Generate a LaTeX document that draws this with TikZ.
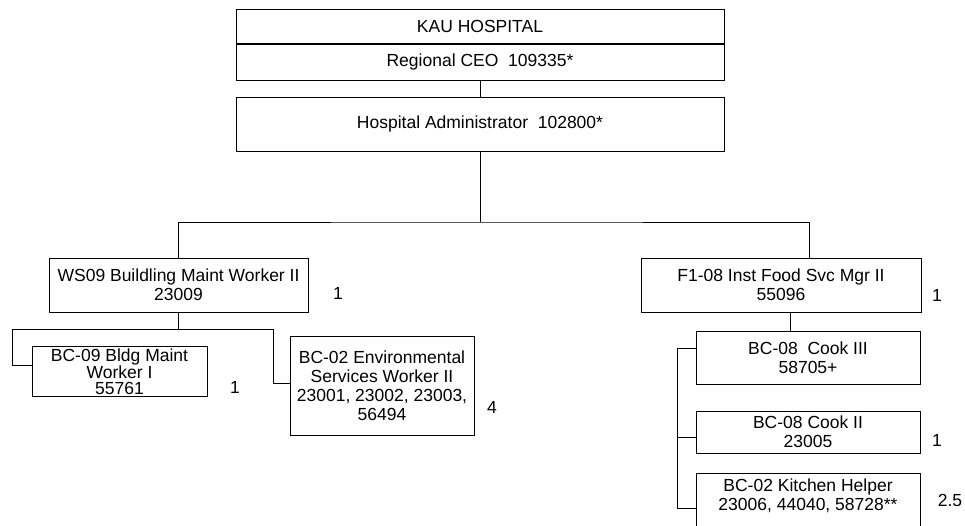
\documentclass[tikz,border=0pt]{standalone}
\usepackage{fontspec}
\setmainfont{Liberation Sans}
\usetikzlibrary{positioning}
\tikzset{
  every node/.style={
    font=\fontsize{17.5}{19}\selectfont
  },
  post/.style n args={2}{
    shape=rectangle,
    draw=black,
    line width=1pt,
    minimum width=#1,
    minimum height=#2,
    inner sep=0pt,
    align=center
  },
  tight/.style={
    font=\fontsize{17.5}{16}\selectfont
  },
  headcount/.style={
    inner sep=0pt
  },
  link/.style={
    draw=black,
    line width=1pt
  }
}

\begin{document}
\begin{tikzpicture}[x=1pt,y=-1pt]
\useasboundingbox (0,0) rectangle (965,525);
\clip (0,0) rectangle (965,525);

% top of the chart
\node [post={488pt}{34pt}] (hosp) at (480,26) {KAU HOSPITAL};
\node [post={488pt}{36pt}, below=0pt of hosp] (ceo) {Regional CEO~\ 109335*};
\node [post={488pt}{54pt}] (admin) at (480,124) {Hospital Administrator~\ 102800*};

% the two departments
\node [post={259pt}{54pt}] (maint) at (178.5,285) {WS09 Buildling Maint Worker II\\23009};
\node [post={280pt}{54pt}] (food) at (781,285) {F1-08 Inst Food Svc Mgr II\\55096};

% maintenance staff
\node [post={175pt}{50pt}, tight] (bldg) at (119.5,371.5) {BC-09 Bldg Maint\\Worker I\\55761};
\node [post={184pt}{99pt}] (env) at (382,385.5) {BC-02 Environmental\\Services Worker II\\23001, 23002, 23003,\\56494};

% kitchen staff
\node [post={224pt}{53pt}] (cook3) at (808,357.5) {BC-08~\ Cook III\\58705+};
\node [post={224pt}{42pt}] (cook2) at (808,432) {BC-08 Cook II\\23005};
\node [post={224pt}{0pt}, anchor=north, inner ysep=5pt, text depth=45pt] (helper) at (808,473)
  {BC-02 Kitchen Helper\\23006, 44040, 58728**};

% head counts
\node [headcount] (nmaint) at (338,293) {1};
\node [headcount] (nbldg) at (235,387) {1};
\node [headcount] (nenv) at (492,407) {4};
\node [headcount] (nfood) at (937,295) {1};
\node [headcount] (ncook2) at (937,440) {1};
\node [headcount] (nhelper) at (950,500) {2.5};

% connectors
\coordinate (split) at (480,222);
\coordinate (maintrail) at (178.5,329);
\draw [link] (ceo) -- (admin);
\draw [link] (admin) -- (split);
\draw [link] (maint.north) |- (split) -| ([xshift=28pt]food.north);
\draw [link] (maint) -- (maintrail);
\draw [link] (maintrail) -- ++(-166.5,0) |- ([yshift=6pt]bldg.west);
\draw [link] (maintrail) -- ++(94.5,0) |- ([yshift=2.5pt]env.west);
\draw [link] ([xshift=9pt]food.south) -- ([xshift=9pt]food.south |- cook3.north);
\draw [link] ([yshift=9.5pt]cook3.west) -- ++(-18,0) |- ([yshift=-35pt]helper.north west);
\draw [link] ([yshift=-5pt]cook2.west) -- ++(-18,0);

\end{tikzpicture}
\end{document}
